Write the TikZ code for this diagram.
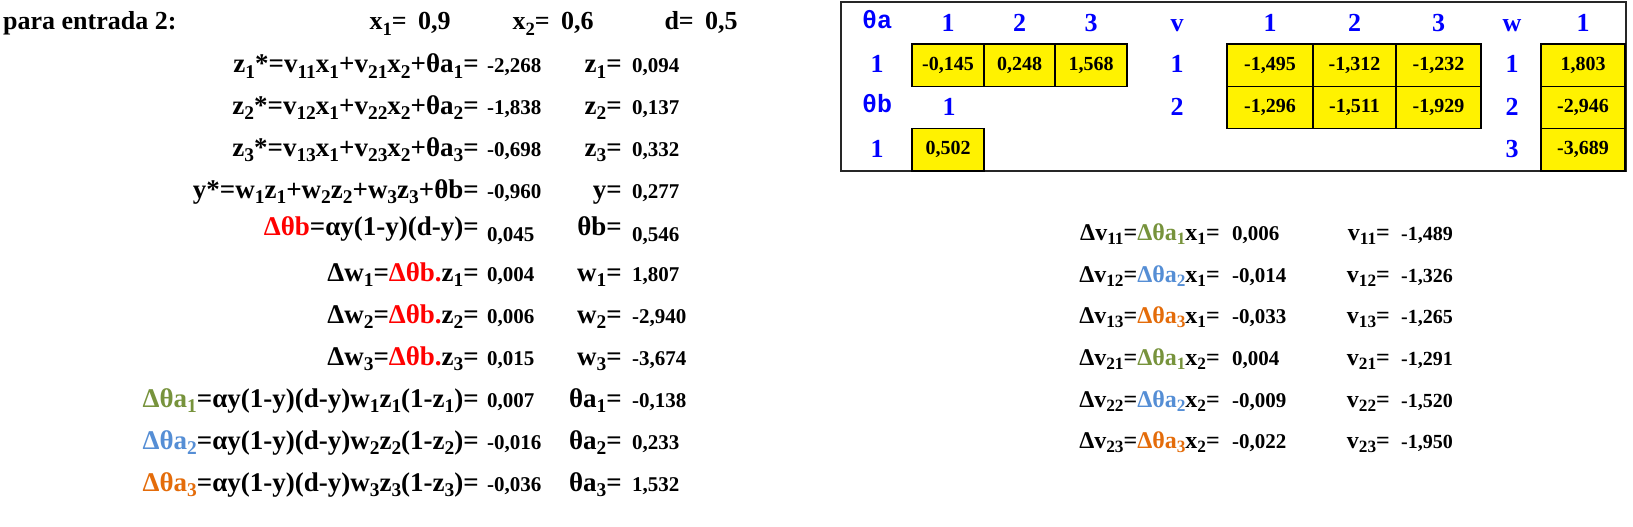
\documentclass[tikz,border=0pt]{standalone}
\usepackage{fontspec}
\setmainfont{Liberation Serif}
\newfontfamily\monofont{Liberation Mono}
\usetikzlibrary{positioning}

\definecolor{olivegreen}{RGB}{119,147,60}
\definecolor{skyblue}{RGB}{85,142,213}
\definecolor{darkorange}{RGB}{228,108,10}
\definecolor{labelblue}{RGB}{0,0,255}

\newcommand{\sub}[1]{\raisebox{-0.2em}{\scalebox{0.72}{#1}}}
\newcommand{\dtb}{\textcolor{red}{Δθb}}
\newcommand{\dta}[2]{\textcolor{#1}{Δθa\sub{#2}}}

\tikzset{
  expr/.style={anchor=base east, inner sep=0pt, font=\fontsize{27}{30}\selectfont\bfseries},
  num/.style={anchor=base west, inner sep=0pt, font=\fontsize{21}{24}\selectfont\bfseries},
  title/.style={anchor=base west, inner sep=0pt, font=\fontsize{26}{30}\selectfont\bfseries},
  vexpr/.style={anchor=base east, inner sep=0pt, font=\fontsize{24}{28}\selectfont\bfseries},
  tlabel/.style={anchor=base, inner sep=0pt, text=labelblue, font=\fontsize{26}{30}\selectfont\bfseries},
  mlabel/.style={tlabel, font=\fontsize{25}{30}\selectfont\bfseries\monofont},
  cell/.style={draw, line width=1.5pt, fill=yellow, minimum width=#1, minimum height=42.3pt,
    inner sep=0pt, font=\fontsize{20}{24}\selectfont\bfseries},
  cell/.default=72pt
}

\begin{document}
\begin{tikzpicture}[x=1pt,y=-1pt]
  \useasboundingbox (0,0) rectangle (1633,527);
  \fill[white] (0,0) rectangle (1633,527);

  % input line
  \node[title] (entry) at (3,30) {para entrada 2:};
  \node[title,anchor=base east] (xa) at (407,30) {x\sub{1}=};
  \node[title] (xav) at (418,30) {0,9};
  \node[title,anchor=base east] (xb) at (550,30) {x\sub{2}=};
  \node[title] (xbv) at (561,30) {0,6};
  \node[title,anchor=base east] (dd) at (694,30) {d=};
  \node[title] (ddv) at (705,30) {0,5};

  % forward and backward pass
  \foreach \yb/\yn/\ex/\nu/\la/\va [count=\i] in {
    73/73/{z\sub{1}*=v\sub{11}x\sub{1}+v\sub{21}x\sub{2}+θa\sub{1}=}/{-2,268}/{z\sub{1}=}/{0,094},
    114/114/{z\sub{2}*=v\sub{12}x\sub{1}+v\sub{22}x\sub{2}+θa\sub{2}=}/{-1,838}/{z\sub{2}=}/{0,137},
    156/156/{z\sub{3}*=v\sub{13}x\sub{1}+v\sub{23}x\sub{2}+θa\sub{3}=}/{-0,698}/{z\sub{3}=}/{0,332},
    198/198/{y*=w\sub{1}z\sub{1}+w\sub{2}z\sub{2}+w\sub{3}z\sub{3}+θb=}/{-0,960}/{y=}/{0,277},
    235/241/{\dtb=αy(1-y)(d-y)=}/{0,045}/{θb=}/{0,546},
    281/281/{Δw\sub{1}=\textcolor{red}{Δθb.}z\sub{1}=}/{0,004}/{w\sub{1}=}/{1,807},
    323/323/{Δw\sub{2}=\textcolor{red}{Δθb.}z\sub{2}=}/{0,006}/{w\sub{2}=}/{-2,940},
    365/365/{Δw\sub{3}=\textcolor{red}{Δθb.}z\sub{3}=}/{0,015}/{w\sub{3}=}/{-3,674},
    407/407/{\dta{olivegreen}{1}=αy(1-y)(d-y)w\sub{1}z\sub{1}(1-z\sub{1})=}/{0,007}/{θa\sub{1}=}/{-0,138},
    449/449/{\dta{skyblue}{2}=αy(1-y)(d-y)w\sub{2}z\sub{2}(1-z\sub{2})=}/{-0,016}/{θa\sub{2}=}/{0,233},
    491/491/{\dta{darkorange}{3}=αy(1-y)(d-y)w\sub{3}z\sub{3}(1-z\sub{3})=}/{-0,036}/{θa\sub{3}=}/{1,532}}
  {
    \node[expr] (ex\i) at (479,\yb) {\ex};
    \node[num] (nu\i) at (487,\yn) {\nu};
    \node[expr] (la\i) at (622,\yb) {\la};
    \node[num] (va\i) at (632,\yn) {\va};
  }

  % weights table
  \draw[line width=2pt, draw=black!85] (841,2) rectangle (1626,171);
  \node[mlabel] (ta) at (877,29) {θa};
  \node[mlabel] (tb) at (877,112) {θb};
  \node[tlabel] (tv) at (1177,32) {v};
  \node[tlabel] (tw) at (1512,32) {w};
  \foreach \x/\t in {948/1,1019.5/2,1091/3,1270/1,1354.5/2,1438.5/3,1583/1}
    \node[tlabel] at (\x,32) {\t};
  \foreach \x/\y/\t in {877/73/1,949/115/1,877/157/1,1177/73/1,1177/115/2,1512/73/1,1512/115/2,1512/157/3}
    \node[tlabel] at (\x,\y) {\t};

  \node[cell] (a1) at (948,65.2) {-0,145};
  \node[cell=71pt] (a2) at (1019.5,65.2) {0,248};
  \node[cell] (a3) at (1091,65.2) {1,568};
  \node[cell] (b1) at (948,149.8) {0,502};
  \node[cell=86pt] (v11) at (1270,65.2) {-1,495};
  \node[cell=83pt] (v12) at (1354.5,65.2) {-1,312};
  \node[cell=85pt] (v13) at (1438.5,65.2) {-1,232};
  \node[cell=86pt] (v21) at (1270,107.5) {-1,296};
  \node[cell=83pt] (v22) at (1354.5,107.5) {-1,511};
  \node[cell=85pt] (v23) at (1438.5,107.5) {-1,929};
  \node[cell=84pt] (w1) at (1583,65.2) {1,803};
  \node[cell=84pt] (w2) at (1583,107.5) {-2,946};
  \node[cell=84pt] (w3) at (1583,149.8) {-3,689};

  % hidden layer updates
  \foreach \yb/\ex/\nu/\la/\va [count=\i] in {
    240/{Δv\sub{11}=\dta{olivegreen}{1}x\sub{1}=}/{0,006}/{v\sub{11}=}/{-1,489},
    282/{Δv\sub{12}=\dta{skyblue}{2}x\sub{1}=}/{-0,014}/{v\sub{12}=}/{-1,326},
    323/{Δv\sub{13}=\dta{darkorange}{3}x\sub{1}=}/{-0,033}/{v\sub{13}=}/{-1,265},
    365/{Δv\sub{21}=\dta{olivegreen}{1}x\sub{2}=}/{0,004}/{v\sub{21}=}/{-1,291},
    407/{Δv\sub{22}=\dta{skyblue}{2}x\sub{2}=}/{-0,009}/{v\sub{22}=}/{-1,520},
    448/{Δv\sub{23}=\dta{darkorange}{3}x\sub{2}=}/{-0,022}/{v\sub{23}=}/{-1,950}}
  {
    \node[vexpr] (dv\i) at (1220,\yb) {\ex};
    \node[num] (dn\i) at (1232,\yb) {\nu};
    \node[vexpr] (vl\i) at (1390,\yb) {\la};
    \node[num,font=\fontsize{20}{24}\selectfont\bfseries] (vn\i) at (1401,\yb) {\va};
  }
\end{tikzpicture}
\end{document}
